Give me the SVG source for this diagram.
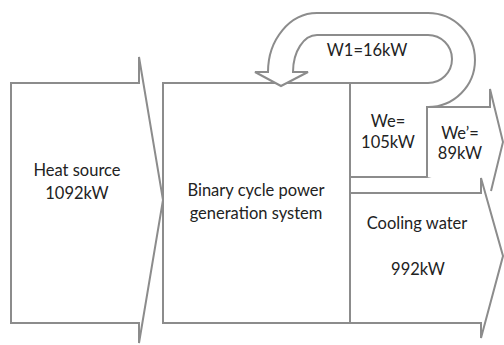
<svg xmlns="http://www.w3.org/2000/svg" width="504" height="345" viewBox="0 0 504 345">
<style>
.s{fill:#fff;stroke:#8c8c8c;stroke-width:2;stroke-linejoin:miter}
.l{fill:none;stroke:#8c8c8c;stroke-width:2}
text{font-family:Lato,"Open Sans","Liberation Sans",sans-serif;font-size:16.5px;fill:#222;text-anchor:middle}
</style>
<rect width="504" height="345" fill="#fff"/>
<g id="heat-source">
<polygon class="s" points="11,83 139,83 139,57 163,200 139,343 139,323 11,323"/>
<text x="77" y="176">Heat source</text>
<text x="77" y="199">1092kW</text>
</g>
<g id="binary-system">
<rect class="s" x="163" y="83" width="187" height="240"/>
<text x="256" y="196">Binary cycle power</text>
<text x="256" y="219">generation system</text>
</g>
<g id="connectors">
<path id="w1-loop" class="s" d="M428,107 A47,47 0 0 0 428,13 L317,13 A49,59 0 0 0 268,72 L255,72 L281,86 L308,72 L293,72 A24,37 0 0 1 317,35 L428,35 A24,24 0 0 1 428,83"/>
<path class="l" d="M350,83 H428 M350,177 H481"/>
<path id="we-prime-arrow" class="s" d="M427,177 V107 H490 V89 L503,142 L491,191"/>
<polygon id="cooling-arrow" class="s" points="350,193 481,193 481,178 503,256 481,338 481,323 350,323"/>
</g>
<g id="w1-label"><text x="367" y="56">W1=16kW</text></g>
<g id="we"><text x="388" y="127">We=</text><text x="388" y="148">105kW</text></g>
<g id="we-prime"><text x="460" y="139">We’=</text><text x="460" y="159">89kW</text></g>
<g id="cooling-water"><text x="417" y="229">Cooling water</text><text x="418" y="275">992kW</text></g>
</svg>
